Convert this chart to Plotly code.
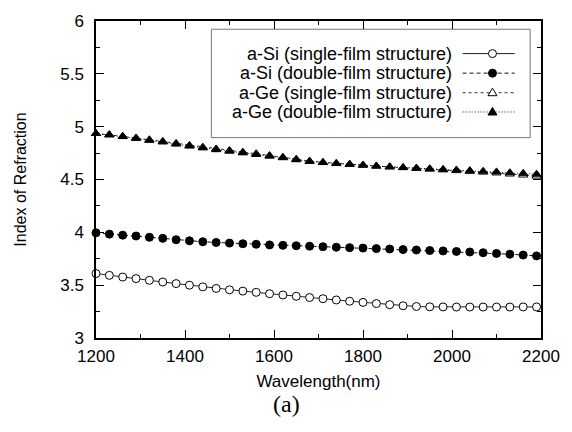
import plotly.graph_objects as go

# ---------------- data ----------------
wavelength = [1200, 1230, 1260, 1290, 1320, 1350, 1380, 1410, 1440, 1470,
              1500, 1530, 1560, 1590, 1620, 1650, 1680, 1710, 1740, 1770,
              1800, 1830, 1860, 1890, 1920, 1950, 1980, 2010, 2040, 2070,
              2100, 2130, 2160, 2190]

si_single = [3.610, 3.593, 3.577, 3.562, 3.546, 3.530, 3.515, 3.500, 3.484, 3.469,
             3.456, 3.444, 3.432, 3.419, 3.407, 3.395, 3.383, 3.372, 3.360, 3.348,
             3.337, 3.326, 3.315, 3.305, 3.298, 3.295, 3.294, 3.293, 3.293, 3.293,
             3.293, 3.293, 3.294, 3.294]

si_double = [3.995, 3.983, 3.973, 3.965, 3.953, 3.943, 3.930, 3.920, 3.911, 3.904,
             3.898, 3.892, 3.887, 3.881, 3.877, 3.873, 3.869, 3.864, 3.859, 3.855,
             3.851, 3.846, 3.842, 3.837, 3.833, 3.828, 3.824, 3.819, 3.814, 3.807,
             3.800, 3.793, 3.785, 3.777]

ge_single = [4.935, 4.924, 4.909, 4.893, 4.876, 4.861, 4.842, 4.823, 4.806, 4.789,
             4.775, 4.759, 4.744, 4.727, 4.711, 4.692, 4.675, 4.663, 4.653, 4.645,
             4.636, 4.627, 4.619, 4.612, 4.605, 4.598, 4.591, 4.584, 4.577, 4.570,
             4.562, 4.552, 4.542, 4.532]

ge_double = [4.935, 4.922, 4.906, 4.889, 4.871, 4.855, 4.835, 4.816, 4.799, 4.782,
             4.768, 4.752, 4.737, 4.721, 4.706, 4.687, 4.671, 4.660, 4.651, 4.644,
             4.636, 4.627, 4.620, 4.614, 4.608, 4.602, 4.596, 4.590, 4.584, 4.578,
             4.572, 4.564, 4.558, 4.550]

series_names = ["a-Si (single-film structure)", "a-Si (double-film structure)",
                "a-Ge (single-film structure)", "a-Ge (double-film structure)"]

# ---------------- styles ----------------
FONT = "Liberation Sans, Arial, sans-serif"
styles = [
    dict(dash="solid", symbol="circle-open", lc="#222222", fill="white"),
    dict(dash="4px,3px", symbol="circle", lc="#111111", fill="black"),
    dict(dash="3px,3px", symbol="triangle-up", lc="#333333", fill="white"),
    dict(dash="1px,2px", symbol="triangle-up", lc="#111111", fill="black"),
]
series_vals = [si_single, si_double, ge_single, ge_double]

fig = go.Figure()
for name, vals, st in zip(series_names, series_vals, styles):
    fig.add_trace(go.Scatter(
        x=wavelength, y=vals, name=name, mode="lines+markers",
        cliponaxis=False,
        line=dict(color=st["lc"], width=1, dash=st["dash"]),
        marker=dict(symbol="circle" if "circle" in st["symbol"] else "triangle-up",
                    size=8, color=st["fill"],
                    line=dict(color="black", width=1)),
        showlegend=False,
    ))

# ---------------- custom legend (text left of sample, like gnuplot) ----------------
shapes = []
annotations = []
shapes.append(dict(type="rect", xref="paper", yref="paper",
                   x0=0.2593, x1=0.9756, y0=0.632, y1=0.974,
                   line=dict(color="#777777", width=1), fillcolor="white", layer="below"))
row_y = [0.8972, 0.8355, 0.7738, 0.713]
mx = 0.891
for name, st, ry in zip(series_names, styles, row_y):
    annotations.append(dict(text=name, xref="paper", yref="paper", x=0.8044, y=ry,
                            xanchor="right", yanchor="middle", showarrow=False,
                            font=dict(family=FONT, size=18, color="black")))
    shapes.append(dict(type="line", xref="paper", yref="paper",
                       x0=0.8238, x1=0.9407, y0=ry, y1=ry,
                       line=dict(color=st["lc"], width=1, dash=st["dash"])))
    if "circle" in st["symbol"]:
        shapes.append(dict(type="circle", xref="paper", yref="paper",
                           xsizemode="pixel", ysizemode="pixel",
                           xanchor=mx, yanchor=ry, x0=-4, x1=4, y0=-4, y1=4,
                           fillcolor=st["fill"], line=dict(color="black", width=1)))
    else:
        shapes.append(dict(type="path", xref="paper", yref="paper",
                           xsizemode="pixel", ysizemode="pixel",
                           xanchor=mx, yanchor=ry,
                           path="M -4.5,-3 L 4.5,-3 L 0,4.5 Z",
                           fillcolor=st["fill"], line=dict(color="black", width=1)))

annotations.append(dict(text="(a)", xref="paper", yref="paper", x=0.429, y=-0.207,
                        xanchor="center", yanchor="middle", showarrow=False,
                        font=dict(family="Liberation Serif, DejaVu Serif, serif",
                                  size=24, color="black")))

axis_common = dict(showline=True, linecolor="black", linewidth=1.5, mirror="ticks",
                   ticks="inside", ticklen=8, tickwidth=1, tickcolor="black",
                   showgrid=False, zeroline=False,
                   tickfont=dict(family=FONT, size=17, color="black"))

fig.update_layout(
    width=572, height=432,
    margin=dict(l=96, r=26, t=14, b=94),
    plot_bgcolor="white", paper_bgcolor="white",
    shapes=shapes, annotations=annotations,
    xaxis=dict(range=[1200, 2200], tick0=1200, dtick=200, ticklabelstandoff=2,
               minor=dict(ticks="inside", ticklen=4, dtick=100, tick0=1200,
                          tickcolor="black", showgrid=False),
               title=dict(text="Wavelength(nm)", standoff=10,
                          font=dict(family=FONT, size=17, color="black")),
               **axis_common),
    yaxis=dict(range=[3, 6], tick0=3, dtick=0.5, ticklabelstandoff=7,
               minor=dict(ticks="inside", ticklen=4, dtick=0.25, tick0=3,
                          tickcolor="black", showgrid=False),
               title=dict(text="Index of Refraction", standoff=30,
                          font=dict(family=FONT, size=16, color="black")),
               **axis_common),
)

fig.write_html("out.html")
